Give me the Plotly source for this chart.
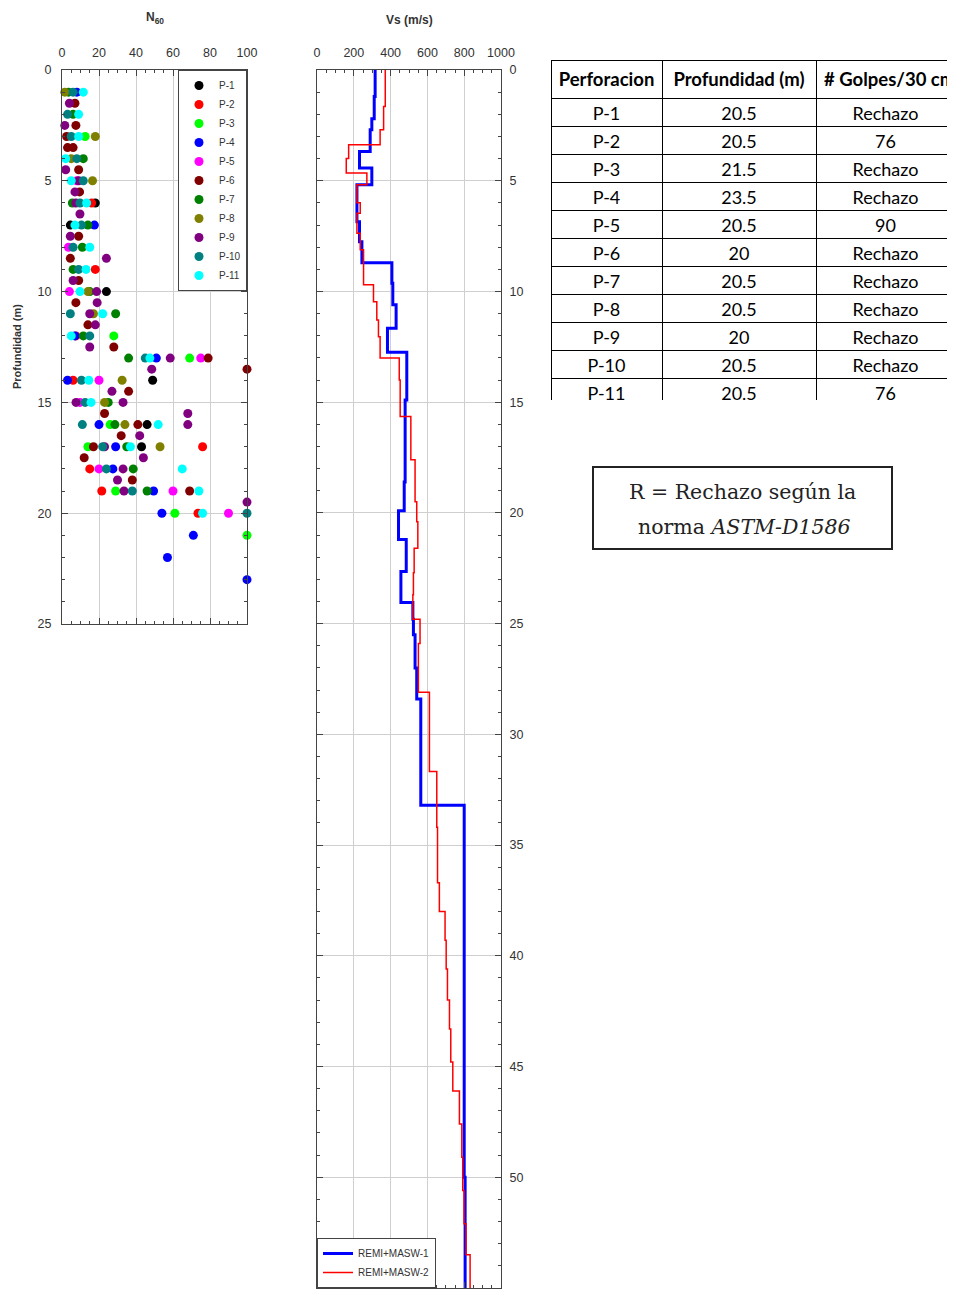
import plotly.graph_objects as go

# The page body has an 8 px margin, so the figure is sized to the visible area
OFF = 8
W, H = 955 - OFF, 1294 - OFF

# ---------------- N60 data (depth m, N60) ----------------
holes = ["P-1", "P-2", "P-3", "P-4", "P-5", "P-6", "P-7", "P-8", "P-9", "P-10", "P-11"]
hole_colors = ["#000000", "#ff0000", "#00ff00", "#0000ff", "#ff00ff", "#800000",
               "#008000", "#808000", "#800080", "#008080", "#00ffff"]

p1_depth = [6, 7, 10, 14, 16, 17]
p1_n = [18, 4.5, 24, 49, 46, 43]
p2_depth = [6, 9, 12, 14, 17, 18, 19, 20]
p2_n = [16, 18, 7.5, 6, 76, 15, 21.5, 73.5]
p3_depth = [3, 12, 13, 16, 17, 19, 20, 21]
p3_n = [12.5, 28, 69, 26, 14, 29, 61, 100]
p4_depth = [1, 7, 12, 13, 14, 16, 17, 18, 19, 20, 21, 22, 23]
p4_n = [8, 17.5, 7, 51, 3, 20, 29, 27.5, 49.5, 54, 71, 57, 100]
p5_depth = [5, 8, 10, 13, 14, 15, 18, 19, 20]
p5_n = [8, 3.5, 4, 75, 20, 9.7, 20, 60, 90]
p6_depth = [1.5, 2.5, 3, 3.5, 3.5, 4.5, 5.5, 7.5, 8.5, 9.5, 10.5, 11.5, 12.5, 13, 13.5,
            14.5, 15.5, 16, 16.5, 17, 17.5, 18.5, 19]
p6_n = [7, 7.5, 2.5, 3, 6, 9, 9.5, 9, 4.5, 9, 7.5, 14, 28, 79, 100,
        36, 23, 41, 32, 17, 12, 38, 69]
p7_depth = [1, 2, 4, 6, 7, 8, 9, 10, 11, 12, 13, 15, 16, 17, 18, 19]
p7_n = [3.5, 6, 11.5, 5.6, 14, 11, 6, 15, 29, 11.5, 36, 25, 28.6, 35, 38.5, 46]
p8_depth = [1, 3, 4, 5, 10, 11, 14, 15, 16, 17]
p8_n = [1.5, 18, 5, 16.5, 14, 17, 32.5, 23, 34, 53]
p9_depth = [1.5, 2.5, 4.5, 5, 5.5, 6, 6.5, 7.5, 8.5, 9.5, 10, 10.5, 11, 11.5, 12.5, 13,
            13.5, 14.5, 15, 15, 15.5, 16, 16.5, 17, 17.5, 18, 18.5, 19, 19.5]
p9_n = [4, 1.5, 2, 9, 7, 7.5, 9.7, 4.5, 24, 6, 18.7, 19, 15, 18, 15, 58.5,
        48.5, 27, 7.6, 33, 68, 68, 42, 23, 44, 33, 30, 33.5, 100]
p10_depth = [1, 2, 3, 4, 5, 6, 7, 8, 9, 11, 12, 13, 14, 15, 16, 17, 18, 19, 20]
p10_n = [6, 3, 5, 8, 11.5, 9.7, 10.5, 6, 9, 4.5, 15, 45, 10.5, 12.5, 11, 22, 24, 38, 100]
p11_depth = [1, 2, 3, 4, 5, 6, 7, 8, 9, 10, 11, 12, 13, 14, 15, 16, 17, 18, 19, 20]
p11_n = [11.5, 9, 9, 2, 5, 13.3, 7, 15, 13, 9.7, 22, 5, 47.5, 14.5, 15.7, 52, 37, 65, 74, 76]

hole_depths = [p1_depth, p2_depth, p3_depth, p4_depth, p5_depth, p6_depth,
               p7_depth, p8_depth, p9_depth, p10_depth, p11_depth]
hole_ns = [p1_n, p2_n, p3_n, p4_n, p5_n, p6_n, p7_n, p8_n, p9_n, p10_n, p11_n]

# ---------------- Vs profiles (layer top depth m, Vs m/s) ----------------
vs1_top = [0, 1.2, 2.2, 2.7, 3.68, 4.43, 5.18, 6.85, 7.75, 8.7, 9.63, 10.6, 11.66, 12.74,
           14.9, 17.3, 18.6, 19.9, 21.2, 22.65, 24.05, 24.8, 25.5, 27.0, 28.4, 33.2, 50.0, 55]
vs1_val = [316, 311, 298, 289, 231, 298, 217, 231, 244, 407, 412, 430, 383, 488,
           479, 479, 474, 443, 485, 456, 521, 524, 533, 542, 564, 800, 805, 805]

vs2_top = [0, 1.65, 2.7, 3.38, 4.0, 4.65, 5.18, 6.0, 6.47, 7.37, 8.12, 9.7, 10.46, 11.29,
           12.04, 13.0, 14.0, 15.65, 17.6, 19.5, 20.4, 21.6, 22.7, 23.7, 24.8, 25.9, 28.1,
           31.68, 34.2, 36.7, 38.0, 39.3, 40.6, 42.0, 43.3, 44.8, 46.1, 47.6, 49.1, 50.6,
           52.1, 53.5, 55]
vs2_val = [371, 362, 343, 172, 159, 271, 217, 235, 217, 235, 253, 307, 325, 334,
           343, 447, 452, 510, 533, 542, 548, 528, 524, 521, 560, 551, 611,
           651, 655, 665, 696, 702, 709, 720, 727, 738, 774, 787, 792, 799,
           810, 832, 832]

# ---------------- Table ----------------
tbl_header = ["Perforacion", "Profundidad (m)", "# Golpes/30 cm"]
tbl_perf = ["P-1", "P-2", "P-3", "P-4", "P-5", "P-6", "P-7", "P-8", "P-9", "P-10", "P-11"]
tbl_prof = ["20.5", "20.5", "21.5", "23.5", "20.5", "20", "20.5", "20.5", "20", "20.5", "20.5"]
tbl_golpes = ["Rechazo", "76", "Rechazo", "Rechazo", "90", "Rechazo", "Rechazo",
              "Rechazo", "Rechazo", "Rechazo", "76"]


def fx(px):
    return (px - OFF) / W


def fy(py):
    return 1 - (py - OFF) / H


fig = go.Figure()

for name, col, d, n in zip(holes, hole_colors, hole_depths, hole_ns):
    fig.add_trace(go.Scatter(
        x=n, y=d, mode="markers", name=name, cliponaxis=False,
        marker=dict(color=col, size=9, line=dict(width=0)),
        xaxis="x", yaxis="y", legend="legend"))

fig.add_trace(go.Scatter(
    x=vs1_val, y=vs1_top, mode="lines", name="REMI+MASW-1", line_shape="vh",
    line=dict(color="#0000ff", width=3), xaxis="x2", yaxis="y2", legend="legend2"))
fig.add_trace(go.Scatter(
    x=vs2_val, y=vs2_top, mode="lines", name="REMI+MASW-2", line_shape="vh",
    line=dict(color="#ff0000", width=1.5), xaxis="x2", yaxis="y2", legend="legend2"))

hdr = ["<b>" + h.replace(" ", "\u00a0") + "</b>" for h in tbl_header]
fig.add_trace(go.Table(
    domain=dict(x=[fx(551), 1.0], y=[fy(400), fy(60)]),
    columnwidth=[111, 154, 139],
    header=dict(values=hdr, height=28, align=["center", "center", "left"],
                font=dict(family="Lato", size=18.5, color="black"),
                line=dict(color="black", width=1), fill_color="white"),
    cells=dict(values=[tbl_perf, tbl_prof, tbl_golpes], height=28, align="center",
               font=dict(family="Lato", size=18, color="black"),
               line=dict(color="black", width=1), fill_color="white"),
))

axis_common = dict(
    showline=True, linecolor="#444", linewidth=1.2, mirror="allticks",
    ticks="inside", ticklen=6, tickcolor="#444", tickwidth=1, automargin=False,
    showgrid=True, gridcolor="#cfcfcf", gridwidth=1, zeroline=False,
    tickfont=dict(family="Liberation Sans", size=12.5, color="#333"),
)

fig.update_layout(
    width=W, height=H, margin=dict(l=0, r=0, t=0, b=0, autoexpand=False),
    paper_bgcolor="white", plot_bgcolor="white",
    font=dict(family="Liberation Sans", color="#333"),
    xaxis=dict(domain=[fx(62), fx(247)], range=[0, 100], side="top", anchor="y",
               dtick=20, ticklabelstandoff=7,
               minor=dict(dtick=5, ticks="inside", ticklen=3, tickcolor="#444", showgrid=False),
               **axis_common),
    yaxis=dict(domain=[fy(624), fy(70)], range=[25, 0], anchor="x", dtick=5,
               ticklabelstandoff=7,
               minor=dict(dtick=1, ticks="inside", ticklen=3, tickcolor="#444", showgrid=False),
               **axis_common),
    xaxis2=dict(domain=[fx(317), fx(501)], range=[0, 1000], side="top", anchor="y2",
                dtick=200, ticklabelstandoff=7,
                minor=dict(dtick=50, ticks="inside", ticklen=3, tickcolor="#444", showgrid=False),
                **axis_common),
    yaxis2=dict(domain=[fy(1288), fy(70)], range=[55, 0], anchor="x2", side="right",
                dtick=5, ticklabelstandoff=5,
                minor=dict(dtick=1, ticks="inside", ticklen=3, tickcolor="#444", showgrid=False),
                **axis_common),
    legend=dict(x=fx(247), xanchor="right", y=fy(70), yanchor="top",
                bgcolor="white", bordercolor="#444", borderwidth=1,
                font=dict(family="Liberation Sans", size=10, color="#333")),
    legend2=dict(x=fx(317), xanchor="left", y=fy(1288), yanchor="bottom",
                 bgcolor="white", bordercolor="#444", borderwidth=1,
                 entrywidth=90,
                 font=dict(family="Liberation Sans", size=10, color="#333")),
    showlegend=True,
)

ann_common = dict(xref="paper", yref="paper", showarrow=False,
                  xanchor="center", yanchor="middle")
annotations = [
    dict(text="<b>N<sub>60</sub></b>", x=fx(155), y=fy(18),
         font=dict(family="Liberation Sans", size=12, color="#333"), **ann_common),
    dict(text="<b>Vs (m/s)</b>", x=fx(409), y=fy(20),
         font=dict(family="Liberation Sans", size=12, color="#333"), **ann_common),
    dict(text="<b>Profundidad (m)</b>", x=fx(17), y=fy(347), textangle=-90,
         font=dict(family="Liberation Sans", size=11, color="#333"), **ann_common),
    dict(text="R = Rechazo según la", x=fx(742), y=fy(492),
         font=dict(family="DejaVu Serif", size=20.5, color="#222"), **ann_common),
    dict(text="norma <i>ASTM-D1586</i>", x=fx(744), y=fy(527),
         font=dict(family="DejaVu Serif", size=20.5, color="#222"), **ann_common),
]
fig.update_layout(annotations=annotations)
fig.add_shape(type="rect", xref="paper", yref="paper",
              x0=fx(593), x1=fx(892), y0=fy(549), y1=fy(467),
              line=dict(color="#222", width=2), fillcolor="rgba(0,0,0,0)")

fig.write_html("out.html")
